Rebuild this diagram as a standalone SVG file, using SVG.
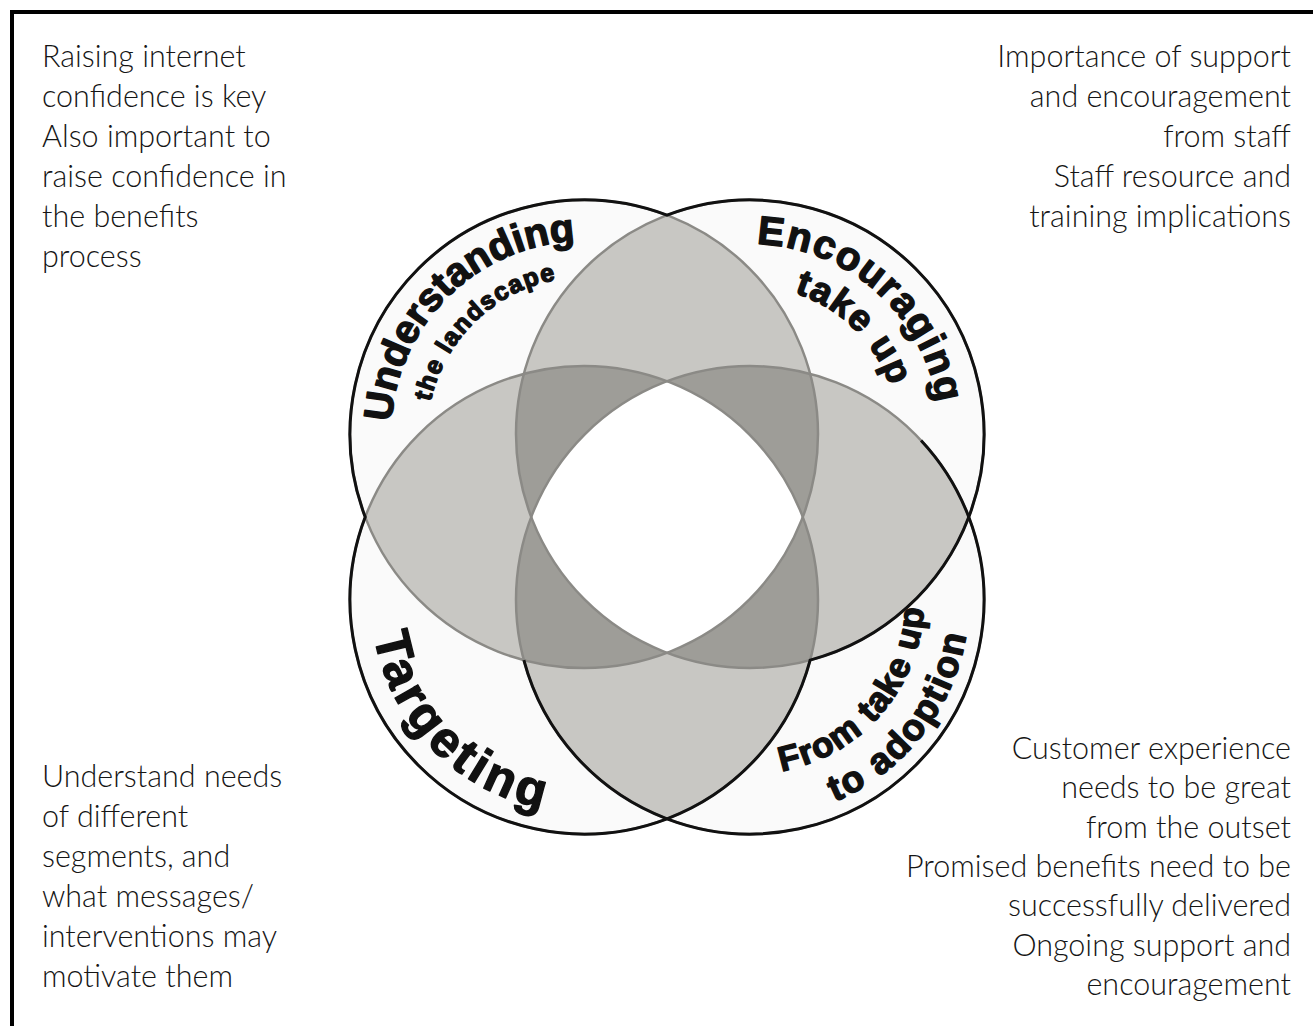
<svg xmlns="http://www.w3.org/2000/svg" width="1313" height="1026" viewBox="0 0 1313 1026">
<style>
.note{font-family:Lato,"Open Sans","Liberation Sans",sans-serif;font-weight:300;font-size:30.5px;fill:#151515}
.r{text-anchor:end}
.big{font-family:"Liberation Sans",Arial,sans-serif;font-weight:bold;fill:#111;stroke:#111;stroke-width:1.4;stroke-linejoin:round;text-anchor:middle}
.gline{fill:none;stroke:#8b8a86;stroke-width:2.5}
.bline{fill:none;stroke:#111;stroke-width:3}
.lt{fill:#c8c7c3}
.dk{fill:#9e9d98}
</style>
<defs>
<path id="lensT" d="M667 215.21A234 234 0 0 1 667 652.79A234 234 0 0 1 667 215.21Z"/>
<path id="lensB" d="M667 381.21A234 234 0 0 1 667 818.79A234 234 0 0 1 667 381.21Z"/>
<path id="lensL" d="M365.21 517A234 234 0 0 1 802.79 517A234 234 0 0 1 365.21 517Z"/>
<path id="lensR" d="M531.21 517A234 234 0 0 1 968.79 517A234 234 0 0 1 531.21 517Z"/>
<clipPath id="cL"><use href="#lensL"/></clipPath>
<clipPath id="cR"><use href="#lensR"/></clipPath>
<path id="pUnd" d="M446.34 569.28A193 193 0 0 1 721.66 298.72"/>
<path id="pLand" d="M470.35 543.75A158 158 0 0 1 697.65 324.25"/>
<path id="pEnc" d="M607.7 308.1A190 190 0 0 1 892.3 559.9"/>
<path id="pTake" d="M644.44 330.26A148 148 0 0 1 855.56 537.74"/>
<path id="pTarg" d="M434.44 448.34A213 213 0 0 0 733.56 751.66"/>
<path id="pFrom" d="M635.19 732.07A175 175 0 0 0 864.81 467.93"/>
<path id="pAdopt" d="M615.17 772.58A219 219 0 0 0 884.83 427.42"/>
</defs>
<rect width="1313" height="1026" fill="#fff"/>
<rect id="frame" x="12" y="12" width="1400" height="1100" fill="none" stroke="#000" stroke-width="4"/>

<g id="venn">
<path id="ring" d="M365.21 517A234 234 0 0 1 667 215.21A234 234 0 0 1 968.79 517A234 234 0 0 1 667 818.79A234 234 0 0 1 365.21 517Z" fill="#fafafa"/>
<use href="#lensT" class="lt"/>
<use href="#lensB" class="lt"/>
<use href="#lensL" class="lt"/>
<use href="#lensR" class="lt"/>
<use href="#lensT" class="dk" clip-path="url(#cL)"/>
<use href="#lensT" class="dk" clip-path="url(#cR)"/>
<use href="#lensB" class="dk" clip-path="url(#cL)"/>
<use href="#lensB" class="dk" clip-path="url(#cR)"/>
<path id="centre" d="M667 381.21A234 234 0 0 1 802.79 517A234 234 0 0 1 667 652.79A234 234 0 0 1 531.21 517A234 234 0 0 1 667 381.21Z" fill="#fff"/>
<circle class="gline" cx="584" cy="434" r="234"/>
<circle class="gline" cx="750" cy="434" r="234"/>
<circle class="gline" cx="584" cy="600" r="234"/>
<circle class="gline" cx="750" cy="600" r="234"/>
<path class="bline" d="M365.21 517A234 234 0 0 1 667 215.21A234 234 0 0 1 968.79 517A234 234 0 0 1 667 818.79A234 234 0 0 1 365.21 517Z"/>
<path class="bline" d="M523.86 660.14A234 234 0 0 0 667 818.79"/>
<path class="bline" d="M968.79 517A234 234 0 0 1 810.14 660.14A234 234 0 0 1 667 818.79"/>
<path class="bline" d="M968.79 517A234 234 0 0 0 921.1 440.4"/>
</g>

<g id="node-understanding">
<text class="big" font-size="40"><textPath href="#pUnd" startOffset="50%">Understanding</textPath></text>
<text class="big" font-size="25" letter-spacing="1.5"><textPath href="#pLand" startOffset="50%">the landscape</textPath></text>
</g>
<g id="node-encouraging">
<text class="big" font-size="40" letter-spacing="1.6"><textPath href="#pEnc" startOffset="50%">Encouraging</textPath></text>
<text class="big" font-size="37" letter-spacing="1.5"><textPath href="#pTake" startOffset="50%">take up</textPath></text>
</g>
<g id="node-targeting">
<text class="big" font-size="50" letter-spacing="4"><textPath href="#pTarg" startOffset="50%">Targeting</textPath></text>
</g>
<g id="node-adoption">
<text class="big" font-size="35" letter-spacing="1.2"><textPath href="#pFrom" startOffset="50%">From take up</textPath></text>
<text class="big" font-size="37" letter-spacing="2"><textPath href="#pAdopt" startOffset="50%">to adoption</textPath></text>
</g>

<g id="note-top-left" class="note">
<text x="42" y="67">Raising internet</text>
<text x="42" y="107">confidence is key</text>
<text x="42" y="147">Also important to</text>
<text x="42" y="187">raise confidence in</text>
<text x="42" y="227">the benefits</text>
<text x="42" y="267">process</text>
</g>
<g id="note-top-right" class="note r">
<text x="1291" y="67">Importance of support</text>
<text x="1291" y="107">and encouragement</text>
<text x="1291" y="147">from staff</text>
<text x="1291" y="187">Staff resource and</text>
<text x="1291" y="227">training implications</text>
</g>
<g id="note-bottom-left" class="note">
<text x="42" y="787">Understand needs</text>
<text x="42" y="827">of different</text>
<text x="42" y="867">segments, and</text>
<text x="42" y="907">what messages/</text>
<text x="42" y="947">interventions may</text>
<text x="42" y="987">motivate them</text>
</g>
<g id="note-bottom-right" class="note r">
<text x="1291" y="759">Customer experience</text>
<text x="1291" y="798">needs to be great</text>
<text x="1291" y="838">from the outset</text>
<text x="1291" y="877">Promised benefits need to be</text>
<text x="1291" y="916">successfully delivered</text>
<text x="1291" y="956">Ongoing support and</text>
<text x="1291" y="995">encouragement</text>
</g>
<g id="connectors"/>
</svg>
